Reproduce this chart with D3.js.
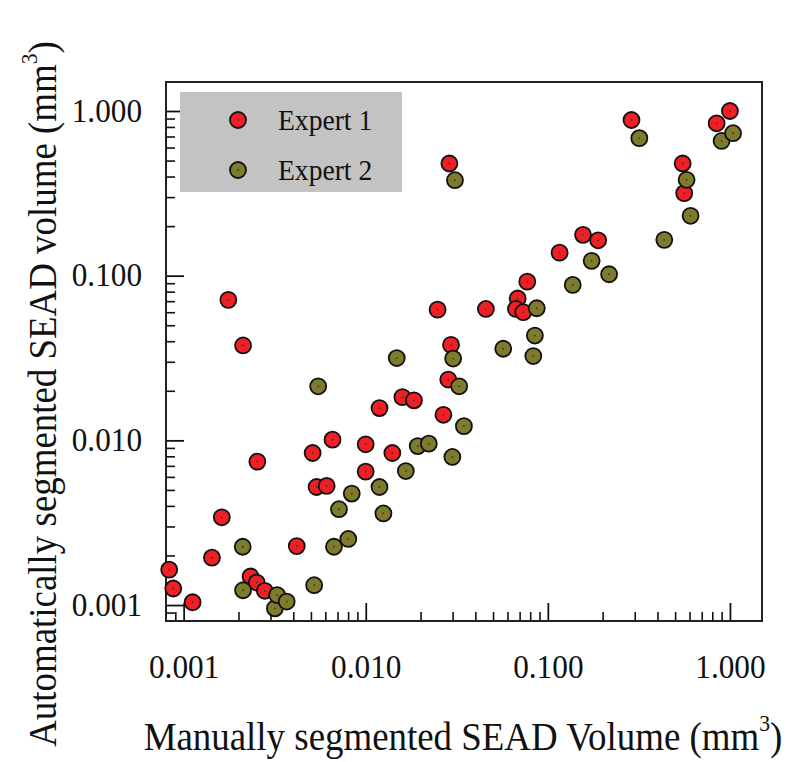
<!DOCTYPE html>
<html>
<head>
<meta charset="utf-8">
<script src="https://cdn.jsdelivr.net/npm/d3@7"></script>
<style>
  html, body { margin: 0; padding: 0; background: #fff; }
  svg { display: block; }
  text { font-family: "Liberation Serif", "Times New Roman", serif; fill: #111; }
</style>
</head>
<body>
<svg id="chart" width="800" height="762"></svg>
<script>
// ---- Data ----
const seriesNames = ["Expert 1", "Expert 2"];
const seriesColors = ["#f01f26", "#7f7b2c"];

const expert1X = [0.000833, 0.000877, 0.00112, 0.00143, 0.00162, 0.00176, 0.00212, 0.00254, 0.00233, 0.00252,
  0.00279, 0.00418, 0.00511, 0.00537, 0.00610, 0.00657, 0.00999, 0.00999, 0.0119, 0.0140,
  0.0159, 0.0184, 0.0248, 0.0267, 0.0284, 0.0294, 0.0288, 0.0457, 0.0683, 0.0668,
  0.0733, 0.0771, 0.116, 0.156, 0.189, 0.288, 0.550, 0.561, 0.845, 1.0];
const expert1Y = [0.00164, 0.00126, 0.00104, 0.00194, 0.00341, 0.0713, 0.0377, 0.00743, 0.00149, 0.00137,
  0.00122, 0.00228, 0.00838, 0.00521, 0.00529, 0.0101, 0.00946, 0.00646, 0.0157, 0.00838,
  0.0183, 0.0175, 0.0622, 0.0143, 0.0234, 0.0380, 0.480, 0.0628, 0.0727, 0.0628,
  0.0600, 0.0920, 0.138, 0.177, 0.164, 0.882, 0.480, 0.317, 0.842, 1.0];

const expert2X = [0.00211, 0.00212, 0.00317, 0.00326, 0.00368, 0.00521, 0.00548, 0.00669, 0.00713, 0.00802,
  0.00838, 0.0119, 0.0125, 0.0148, 0.0166, 0.0193, 0.0222, 0.0299, 0.0302, 0.0309,
  0.0326, 0.0346, 0.0569, 0.0849, 0.0832, 0.0869, 0.137, 0.174, 0.217, 0.318,
  0.436, 0.578, 0.608, 0.900, 1.04];
const expert2Y = [0.00226, 0.00123, 0.000955, 0.00115, 0.00105, 0.00132, 0.0213, 0.00226, 0.00382, 0.00252,
  0.00475, 0.00521, 0.00360, 0.0316, 0.00651, 0.00923, 0.00955, 0.00793, 0.0314, 0.380,
  0.0213, 0.0122, 0.0360, 0.0433, 0.0325, 0.0634, 0.0879, 0.123, 0.102, 0.684,
  0.165, 0.382, 0.231, 0.658, 0.733];

const axisDomain = [0.0008, 1.5];
const majorTicks = [0.001, 0.01, 0.1, 1];
const majorTickLabels = ["0.001", "0.010", "0.100", "1.000"];
const minorMultipliers = [2, 3, 4, 5, 6, 7, 8, 9];
const xTitle = "Manually segmented SEAD Volume (mm";
const yTitle = "Automatically segmented SEAD volume (mm";

// ---- Layout ----
const svg = d3.select("#chart");
const plot = { left: 166, right: 762, top: 82, bottom: 621 };
const serif = '"Liberation Serif", "Times New Roman", serif';

const x = d3.scaleLog().domain(axisDomain).range([plot.left, plot.right]);
const y = d3.scaleLog().domain(axisDomain).range([plot.bottom, plot.top]);

// minor tick values inside domain
const minorTicks = [];
[0.0001, 0.001, 0.01, 0.1, 1].forEach(d => {
  minorMultipliers.forEach(m => {
    const v = d * m;
    if (v > axisDomain[0] * 1.0001 && v < axisDomain[1]) minorTicks.push(v);
  });
});

const fmt = d => majorTickLabels[majorTicks.findIndex(t => Math.abs(t - d) / t < 1e-6)];

// X axis minor
svg.append("g")
  .attr("transform", `translate(0,${plot.bottom})`)
  .call(d3.axisBottom(x).tickValues(minorTicks).tickSize(-9).tickFormat(""))
  .call(g => g.select(".domain").remove())
  .call(g => g.selectAll("line").attr("stroke", "#111").attr("stroke-width", 1.6));
// X axis major
svg.append("g")
  .attr("transform", `translate(0,${plot.bottom})`)
  .call(d3.axisBottom(x).tickValues(majorTicks).tickSize(-18).tickPadding(33).tickFormat(fmt))
  .call(g => g.select(".domain").remove())
  .call(g => g.selectAll("line").attr("stroke", "#111").attr("stroke-width", 1.8))
  .call(g => g.selectAll("text").attr("font-size", 34).attr("fill", "#111")
    .attr("transform", "scale(0.92,1)").attr("font-family", serif));

// Y axis minor
svg.append("g")
  .attr("transform", `translate(${plot.left},0)`)
  .call(d3.axisLeft(y).tickValues(minorTicks).tickSize(-9).tickFormat(""))
  .call(g => g.select(".domain").remove())
  .call(g => g.selectAll("line").attr("stroke", "#111").attr("stroke-width", 1.6));
// Y axis major
svg.append("g")
  .attr("transform", `translate(${plot.left},0)`)
  .call(d3.axisLeft(y).tickValues(majorTicks).tickSize(-18).tickPadding(26).tickFormat(fmt))
  .call(g => g.select(".domain").remove())
  .call(g => g.selectAll("line").attr("stroke", "#111").attr("stroke-width", 1.8))
  .call(g => g.selectAll("text").attr("font-size", 34).attr("fill", "#111").attr("dy", "0.3em")
    .attr("transform", "scale(0.92,1)").attr("font-family", serif));

// Frame
svg.append("rect")
  .attr("x", plot.left).attr("y", plot.top)
  .attr("width", plot.right - plot.left).attr("height", plot.bottom - plot.top)
  .attr("fill", "none").attr("stroke", "#222").attr("stroke-width", 2);

// Legend
const legend = svg.append("g");
legend.append("rect")
  .attr("x", 180).attr("y", 92).attr("width", 222).attr("height", 100)
  .attr("fill", "#c3c3c3");
seriesNames.forEach((name, i) => {
  const cy = 120 + i * 50;
  legend.append("circle").attr("cx", 238).attr("cy", cy).attr("r", 8)
    .attr("fill", seriesColors[i]).attr("stroke", "#111").attr("stroke-width", 1.8);
  legend.append("circle").attr("cx", 238).attr("cy", cy).attr("r", 0.9).attr("fill", "#333");
  legend.append("text").attr("transform", `translate(278,${cy + 10}) scale(0.92,1)`)
    .attr("font-size", 30).text(name);
});

// Points
const seriesData = [
  expert1X.map((v, i) => ({ x: v, y: expert1Y[i] })),
  expert2X.map((v, i) => ({ x: v, y: expert2Y[i] }))
];
seriesData.forEach((data, si) => {
  const g = svg.append("g");
  data.forEach(d => {
    g.append("circle").attr("cx", x(d.x)).attr("cy", y(d.y)).attr("r", 8)
      .attr("fill", seriesColors[si]).attr("stroke", "#111").attr("stroke-width", 1.8);
    g.append("circle").attr("cx", x(d.x)).attr("cy", y(d.y)).attr("r", 0.9).attr("fill", "#333");
  });
});

// Axis titles
const xt = svg.append("text")
  .attr("transform", "translate(463,750) scale(0.9,1)")
  .attr("text-anchor", "middle")
  .attr("font-size", 41);
xt.append("tspan").text(xTitle);
xt.append("tspan").attr("font-size", 24).attr("dy", -19).text("3");
xt.append("tspan").attr("dy", 19).text(")");

const yt = svg.append("text")
  .attr("transform", "translate(56,394) rotate(-90) scale(0.9,1)")
  .attr("text-anchor", "middle")
  .attr("font-size", 41);
yt.append("tspan").text(yTitle);
yt.append("tspan").attr("font-size", 24).attr("dy", -19).text("3");
yt.append("tspan").attr("dy", 19).text(")");
</script>
</body>
</html>
